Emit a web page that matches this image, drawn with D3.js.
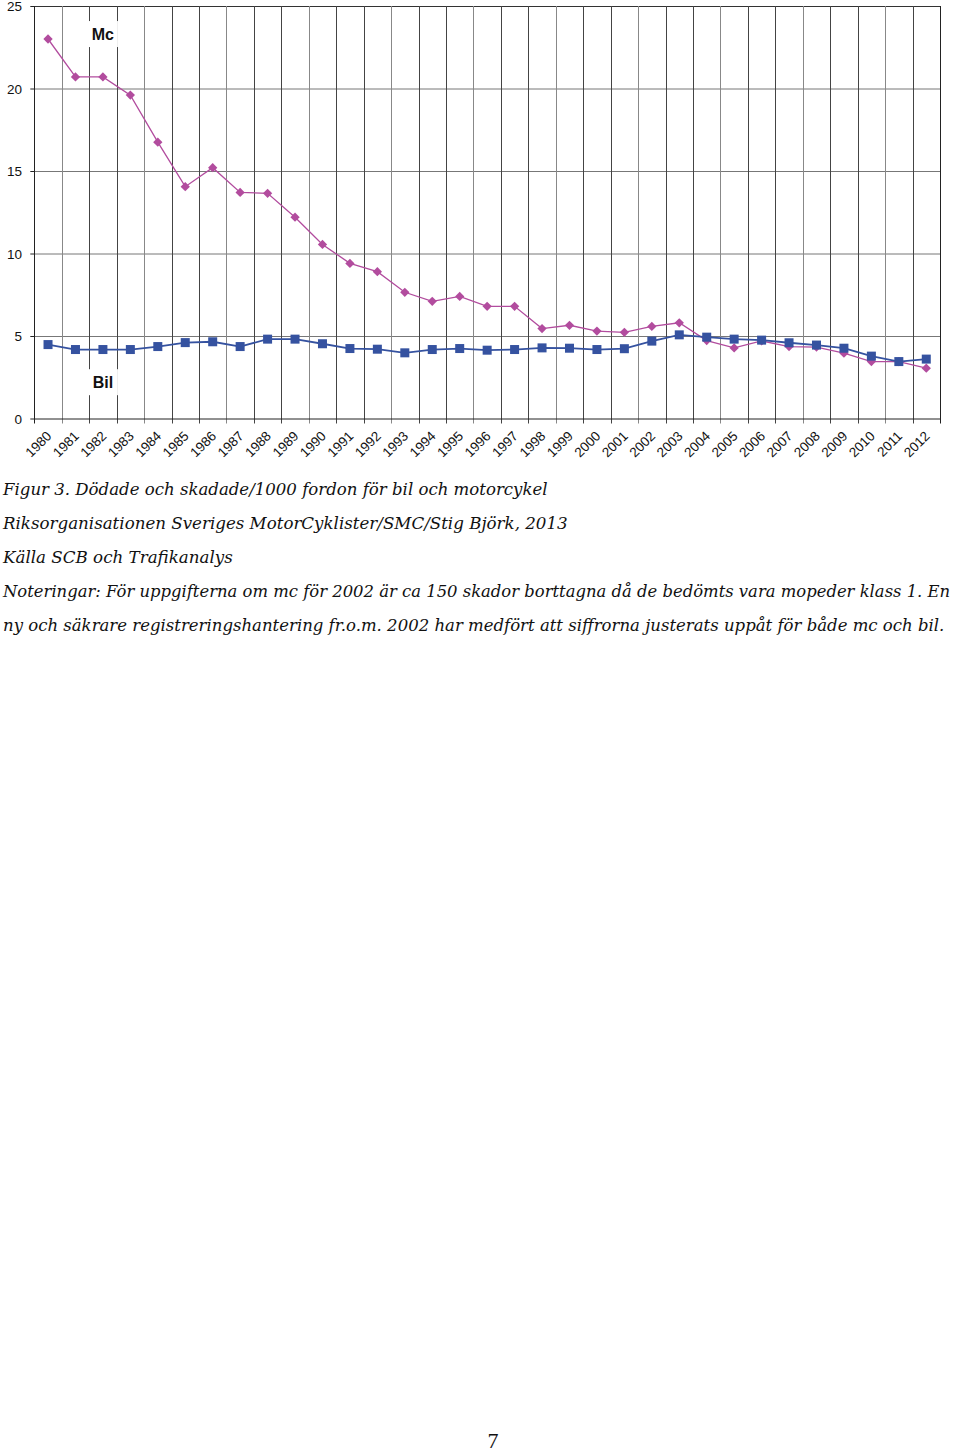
<!DOCTYPE html>
<html>
<head>
<meta charset="utf-8">
<script src="https://cdn.jsdelivr.net/npm/d3@7"></script>
<style>
  body { margin: 0; background: #fff; }
  svg text { font-family: Arial, "Liberation Sans", sans-serif; }
  .caption { font-family: "DejaVu Serif", "Liberation Serif", serif; font-style: italic; fill: #111; }
</style>
</head>
<body>
<script>
var years = d3.range(1980, 2013),
    mcValues = [23.0, 20.7, 20.7, 19.6, 16.75, 14.05, 15.2, 13.7, 13.65, 12.2,
                10.55, 9.4, 8.9, 7.65, 7.1, 7.4, 6.8, 6.8, 5.45, 5.65,
                5.3, 5.22, 5.58, 5.8, 4.72, 4.28, 4.7, 4.36, 4.33, 3.96,
                3.45, 3.45, 3.05],
    bilValues = [4.48, 4.18, 4.18, 4.18, 4.36, 4.6, 4.65, 4.36, 4.81, 4.81,
                 4.53, 4.24, 4.2, 3.98, 4.18, 4.24, 4.14, 4.18, 4.28, 4.26,
                 4.18, 4.23, 4.69, 5.07, 4.93, 4.81, 4.75, 4.59, 4.45, 4.26,
                 3.78, 3.45, 3.6],
    yTicks = [0, 5, 10, 15, 20, 25],
    seriesLabels = ["Mc", "Bil"],
    captionLines = [
      "Figur 3. Dödade och skadade/1000 fordon för bil och motorcykel",
      "Riksorganisationen Sveriges MotorCyklister/SMC/Stig Björk, 2013",
      "Källa SCB och Trafikanalys",
      "Noteringar: För uppgifterna om mc för 2002 är ca 150 skador borttagna då de bedömts vara mopeder klass 1. En",
      "ny och säkrare registreringshantering fr.o.m. 2002 har medfört att siffrorna justerats uppåt för både mc och bil."
    ],
    captionWidths = [545, 565, 230, 948, 942],
    pageNumber = "7";

var width = 960,
    height = 1453,
    plot = {left: 34.3, right: 940, top: 6, bottom: 418.5};

var svg = d3.select("body").append("svg")
    .attr("width", width)
    .attr("height", height);

var x = d3.scaleBand()
    .domain(years)
    .range([plot.left, plot.right]);

var y = d3.scaleLinear()
    .domain([0, 25])
    .range([plot.bottom, plot.top]);

var cx = function(d, i) { return x(years[i]) + x.bandwidth() / 2; };

// horizontal gridlines
svg.append("g").selectAll("line")
    .data(yTicks.slice(1))
    .enter().append("line")
      .attr("x1", plot.left).attr("x2", plot.right)
      .attr("y1", function(d) { return y(d) + 0.5; })
      .attr("y2", function(d) { return y(d) + 0.5; })
      .attr("stroke", function(d) { return d === 25 ? "#333" : "#777"; })
      .attr("stroke-width", 1);

// vertical gridlines at category borders
var borders = years.map(function(d) { return x(d); }).concat([plot.right]);
svg.append("g").selectAll("line")
    .data(borders)
    .enter().append("line")
      .attr("x1", function(d) { return Math.round(d) + 0.5; })
      .attr("x2", function(d) { return Math.round(d) + 0.5; })
      .attr("y1", plot.top)
      .attr("y2", plot.bottom + 5)
      .attr("stroke", function(d, i) { return (i === 0 || i === borders.length - 1) ? "#222" : (i % 3 === 1 ? "#888" : "#444"); })
      .attr("stroke-width", 1);

// x axis line
svg.append("line")
    .attr("x1", plot.left).attr("x2", plot.right)
    .attr("y1", plot.bottom + 0.5).attr("y2", plot.bottom + 0.5)
    .attr("stroke", "#222");

// y axis ticks + labels
var yAxis = svg.append("g");
yAxis.selectAll("line")
    .data(yTicks)
    .enter().append("line")
      .attr("x1", plot.left - 4).attr("x2", plot.left)
      .attr("y1", function(d) { return y(d) + 0.5; })
      .attr("y2", function(d) { return y(d) + 0.5; })
      .attr("stroke", "#222");
yAxis.selectAll("text")
    .data(yTicks)
    .enter().append("text")
      .attr("x", 22)
      .attr("y", function(d) { return y(d) + 5; })
      .attr("text-anchor", "end")
      .attr("font-size", 13.5)
      .attr("fill", "#111")
      .text(function(d) { return d; });

// x labels, rotated
svg.append("g").selectAll("text")
    .data(years)
    .enter().append("text")
      .attr("transform", function(d) {
        return "translate(" + (x(d) + x.bandwidth() / 2 + 1) + "," + (plot.bottom + 15) + ") rotate(-45)";
      })
      .attr("text-anchor", "end")
      .attr("dy", "0.35em")
      .attr("font-size", 13.5)
      .attr("fill", "#111")
      .text(function(d) { return d; });

// series labels with white background
var labelYears = [1982, 1982],
    labelVals = [23.3, 2.2];
seriesLabels.forEach(function(name, i) {
  var lx = x(labelYears[i]) + x.bandwidth() / 2,
      ly = y(labelVals[i]);
  svg.append("rect")
    .attr("x", lx - 15).attr("y", ly - 13)
    .attr("width", 30).attr("height", 26)
    .attr("fill", "#fff");
  svg.append("text")
    .attr("x", lx).attr("y", ly + 6)
    .attr("text-anchor", "middle")
    .attr("font-size", 16)
    .attr("font-weight", "bold")
    .attr("fill", "#111")
    .text(name);
});

// lines
var line = d3.line()
    .x(cx)
    .y(function(d) { return y(d); });

svg.append("path")
    .datum(mcValues)
    .attr("d", line)
    .attr("fill", "none")
    .attr("stroke", "#B24C9E")
    .attr("stroke-width", 1.3);

svg.append("path")
    .datum(bilValues)
    .attr("d", line)
    .attr("fill", "none")
    .attr("stroke", "#3552A0")
    .attr("stroke-width", 1.8);

// markers
svg.append("g").selectAll("path")
    .data(mcValues)
    .enter().append("path")
      .attr("d", d3.symbol().type(d3.symbolDiamond2).size(55))
      .attr("transform", function(d, i) { return "translate(" + cx(d, i) + "," + y(d) + ")"; })
      .attr("fill", "#B24C9E");

svg.append("g").selectAll("rect")
    .data(bilValues)
    .enter().append("rect")
      .attr("x", function(d, i) { return cx(d, i) - 4.5; })
      .attr("y", function(d) { return y(d) - 4.5; })
      .attr("width", 9).attr("height", 9)
      .attr("fill", "#3552A0");

// caption: fit each line's font size to the width it has in the original
svg.append("g").selectAll("text")
    .data(captionLines)
    .enter().append("text")
      .attr("class", "caption")
      .attr("x", 3)
      .attr("y", function(d, i) { return 495 + i * 34; })
      .attr("font-size", 18)
      .text(function(d) { return d; })
      .each(function(d, i) {
        var w = this.getComputedTextLength(),
            fs = Math.min(19, 18 * captionWidths[i] / w);
        d3.select(this).attr("font-size", fs.toFixed(2));
      });

svg.append("text")
    .attr("x", 493)
    .attr("y", 1448)
    .attr("text-anchor", "middle")
    .attr("font-size", 22)
    .style("font-family", "'Liberation Serif', serif")
    .attr("fill", "#111")
    .text(pageNumber);
</script>
</body>
</html>
